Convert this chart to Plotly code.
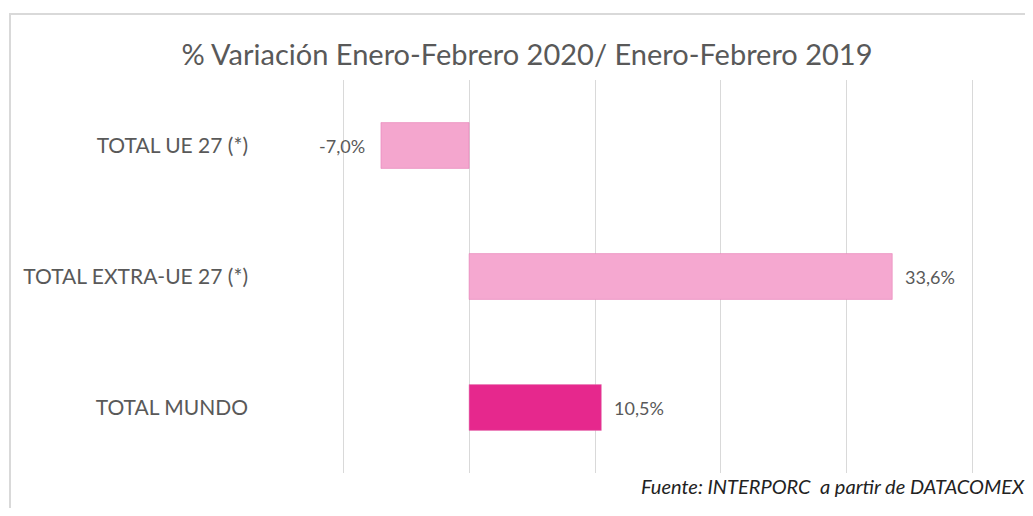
import plotly.graph_objects as go

categories = ["TOTAL UE 27 (*)", "TOTAL EXTRA-UE 27 (*)", "TOTAL MUNDO"]
values = [-7.0, 33.6, 10.5]
colors = ["#F4A6CE", "#F5A8D0", "#E6288D"]
tick_vals = [-10, 0, 10, 20, 30, 40]
x_range = [-10.25, 40.25]

# page body has an 8px margin: work in screenshot pixels, shift by OFF
OFF = 8
W, H = 1033 - OFF, 516 - 2 * OFF
PX_PER_UNIT = (973 - 343) / 50.0
plot_left = 343 + (x_range[0] + 10) * PX_PER_UNIT
plot_right = 973 + (x_range[1] - 40) * PX_PER_UNIT
L = round(plot_left - OFF)
R = round(W - (plot_right - OFF))
T = 80 - OFF
B = H - (473 - OFF)
pw, ph = W - L - R, H - T - B

def px_x(p):
    return (p - OFF - L) / pw

def px_y(p):
    return (H - B - (p - OFF)) / ph

FONT = "Lato"
GRAY = "#595959"

fig = go.Figure()
fig.add_trace(go.Bar(
    y=categories, x=values, orientation="h",
    marker=dict(color=colors, line=dict(color="rgba(230,120,180,0.5)", width=1)),
    width=0.35, hoverinfo="skip",
))

annotations = []
for c, v in zip(categories, values):
    label = f"{v:.1f}%".replace(".", ",")
    annotations.append(dict(
        x=v, y=c, xref="x", yref="y", text=label, showarrow=False,
        xanchor="left" if v >= 0 else "right",
        xshift=11 if v >= 0 else -14,
        font=dict(family=FONT, size=18, color=GRAY),
    ))
annotations.append(dict(
    x=px_x(1027), y=px_y(486), xref="paper", yref="paper",
    xanchor="right", yanchor="middle", showarrow=False,
    text="<i>Fuente: INTERPORC  a partir de DATACOMEX</i>",
    font=dict(family=FONT, size=20, color="#222222"),
))

fig.update_layout(
    width=W, height=H,
    margin=dict(l=L, r=R, t=T, b=B, autoexpand=False),
    paper_bgcolor="white", plot_bgcolor="white",
    showlegend=False,
    title=dict(text="% Variación Enero-Febrero 2020/ Enero-Febrero 2019",
               x=(527 - OFF) / W, xref="container", xanchor="center",
               y=1 - (55 - OFF) / H, yanchor="middle",
               font=dict(family=FONT, size=29, color=GRAY)),
    xaxis=dict(range=x_range, tickvals=tick_vals, showticklabels=False,
               showgrid=True, gridcolor="#D9D9D9", gridwidth=1,
               zeroline=True, zerolinecolor="#D9D9D9", zerolinewidth=1,
               showline=False, fixedrange=True),
    yaxis=dict(autorange="reversed", showgrid=False, zeroline=False, showline=False,
               ticks="", ticklabelstandoff=91, automargin=False,
               tickfont=dict(family=FONT, size=21, color=GRAY)),
    annotations=annotations,
    shapes=[dict(type="rect", xref="paper", yref="paper",
                 x0=px_x(10), x1=px_x(1045), y0=px_y(540), y1=px_y(14),
                 line=dict(color="#D9D9D9", width=2), fillcolor="rgba(0,0,0,0)",
                 layer="below")],
)

fig.write_html("out.html")
